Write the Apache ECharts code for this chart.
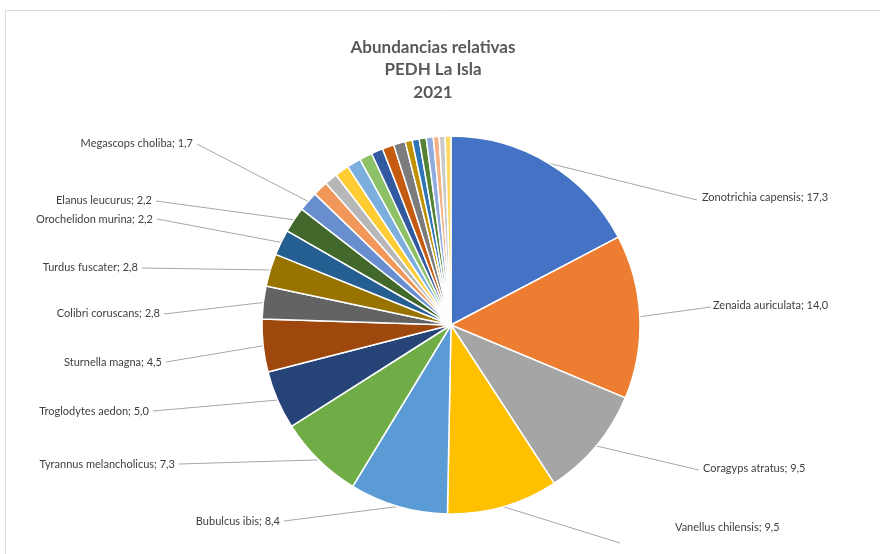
<!DOCTYPE html>
<html>
<head>
<meta charset="utf-8">
<script src="https://cdn.jsdelivr.net/npm/echarts@6/dist/echarts.min.js"></script>
<style>
  html, body { margin: 0; padding: 0; background: #fff; }
  #chart { width: 880px; height: 554px; }
</style>
</head>
<body>
<div id="chart"></div>
<script>
// especies con etiqueta
var species = [
  'Zonotrichia capensis', 'Zenaida auriculata', 'Coragyps atratus', 'Vanellus chilensis',
  'Bubulcus ibis', 'Tyrannus melancholicus', 'Troglodytes aedon', 'Sturnella magna',
  'Colibri coruscans', 'Turdus fuscater', 'Orochelidon murina', 'Elanus leucurus',
  'Megascops choliba'
]
var values = [17.3, 14.0, 9.5, 9.5, 8.4, 7.3, 5.0, 4.5, 2.8, 2.8, 2.2, 2.2, 1.7]
// resto de especies sin etiqueta (valores estimados)
var otherValues = [1.3, 1.1, 1.2, 1.2, 1.1, 1.0, 1.0, 1.0, 0.6, 0.6, 0.6, 0.6, 0.5, 0.5, 0.5]

var colors = [
  '#4472C4', '#ED7D31', '#A5A5A5', '#FFC000', '#5B9BD5', '#70AD47',
  '#264478', '#9E480E', '#636363', '#997300', '#255E91', '#43682B',
  '#698ED0', '#F1975A', '#B7B7B7', '#FFCD33', '#7CAFDD', '#8CC168',
  '#335AA1', '#C55A11', '#7C7C7C', '#BF9000', '#2E75B6', '#548235',
  '#8FAADC', '#F4B183', '#C9C9C9', '#FFD966'
]

// posicion de etiquetas y fin de lineas guia
var labelPos = [
  [702, 197], [713, 305], [703, 468], [675, 527],
  [280, 521], [175, 464], [149, 411], [162, 362],
  [160, 313], [138, 267], [153, 219], [152, 200], [193, 143]
]
var lineEnd = [
  [697, 200], [711, 307], [699, 470], [620, 543],
  [284, 521], [179, 464], [153, 411], [166, 362],
  [164, 314], [142, 268], [157, 219], [156, 201], [197, 144]
]

var data = []
species.forEach(function (name, i) {
  data.push({ name: name, value: values[i] })
})
otherValues.forEach(function (v, i) {
  data.push({
    name: 'Otra especie ' + (i + 1),
    value: v,
    label: { show: false },
    labelLine: { show: false }
  })
})

var myChart = echarts.init(document.getElementById('chart'))
myChart.setOption({
  animation: false,
  color: colors,
  title: {
    text: 'Abundancias relativas\nPEDH La Isla\n2021',
    left: 428,
    top: 31,
    textAlign: 'center',
    textStyle: {
      fontFamily: 'Lato',
      fontSize: 17,
      fontWeight: 'bold',
      color: '#595959',
      lineHeight: 22.5
    }
  },
  graphic: [{
    type: 'rect',
    shape: { x: 5.5, y: 10.5, width: 900, height: 600 },
    style: { fill: 'none', stroke: '#d9d9d9', lineWidth: 1 },
    silent: true
  }],
  series: [{
    type: 'pie',
    center: [451, 325],
    radius: 189,
    startAngle: 90,
    clockwise: true,
    avoidLabelOverlap: false,
    itemStyle: { borderColor: '#fff', borderWidth: 1.5 },
    label: {
      show: true,
      position: 'outside',
      fontFamily: 'Lato',
      fontSize: 11,
      color: '#404040',
      formatter: function (p) {
        return p.name + '; ' + p.value.toFixed(1).replace('.', ',')
      }
    },
    labelLine: {
      show: true,
      smooth: false,
      lineStyle: { color: '#a6a6a6', width: 1 }
    },
    labelLayout: function (p) {
      var i = p.dataIndex
      if (i >= labelPos.length) return {}
      var right = i < 4
      var pts = p.labelLinePoints
      var end = lineEnd[i]
      var res = {
        x: labelPos[i][0],
        y: labelPos[i][1],
        align: right ? 'left' : 'right',
        verticalAlign: 'middle'
      }
      if (pts) res.labelLinePoints = [pts[0], end, end]
      return res
    },
    data: data
  }]
})
</script>
</body>
</html>
